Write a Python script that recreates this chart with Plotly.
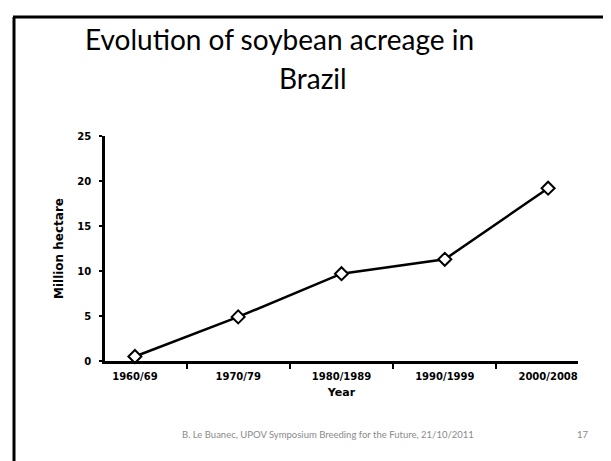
import plotly.graph_objects as go

# data
periodos = ["1960/69", "1970/79", "1980/1989", "1990/1999", "2000/2008"]
area_milhoes_ha = [0.5, 4.9, 9.7, 11.3, 19.2]
y_ticks = [0, 5, 10, 15, 20, 25]

W, H = 611, 461
ML, MR, MT, MB = 97, 41, 128, 108

def px_x(px):
    return (px - ML) / (W - ML - MR)

def px_y(py):
    return (H - MB - py) / (H - MT - MB)

fig = go.Figure()

fig.add_trace(go.Scatter(
    x=periodos, y=area_milhoes_ha, mode='lines+markers',
    line=dict(color='black', width=2.5),
    marker=dict(symbol='diamond', size=10, color='white',
                line=dict(color='black', width=2)),
    showlegend=False, cliponaxis=False))

tick_font = dict(family='DejaVu Sans', size=10, color='black', weight='bold')

fig.update_layout(
    width=W, height=H,
    margin=dict(l=ML, r=MR, t=MT, b=MB),
    paper_bgcolor='white', plot_bgcolor='white',
    font=dict(family='DejaVu Sans', color='black'),
    xaxis=dict(showline=True, linecolor='black', linewidth=2.5,
               ticks='outside', ticklen=5, tickwidth=2, tickcolor='black',
               tickson='boundaries', showgrid=False, zeroline=False,
               tickfont=tick_font, ticklabelstandoff=4,
               title=dict(text='Year', standoff=8,
                          font=dict(family='DejaVu Sans', size=11, weight='bold'))),
    yaxis=dict(range=[0, 25], tickvals=y_ticks, showline=True,
               linecolor='black', linewidth=2.5,
               ticks='outside', ticklen=3, tickwidth=2, tickcolor='black',
               showgrid=False, zeroline=False,
               tickfont=tick_font, ticklabelstandoff=6,
               title=dict(text='Million hectare', standoff=12,
                          font=dict(family='DejaVu Sans', size=12, weight='bold'))),
)

# slide border (left and top edges visible)
fig.add_shape(type='line', xref='paper', yref='paper',
              x0=px_x(6), y0=px_y(470), x1=px_x(6), y1=px_y(9),
              line=dict(color='black', width=3))
fig.add_shape(type='line', xref='paper', yref='paper',
              x0=px_x(5), y0=px_y(9), x1=px_x(620), y1=px_y(9),
              line=dict(color='black', width=3))

titulo_font = dict(family='Lato', size=28, color='black')
fig.add_annotation(text='Evolution of soybean acreage in', xref='paper', yref='paper',
                   x=px_x(271), y=px_y(31), showarrow=False, font=titulo_font,
                   xanchor='center', yanchor='middle')
fig.add_annotation(text='Brazil', xref='paper', yref='paper',
                   x=px_x(305), y=px_y(70), showarrow=False, font=titulo_font,
                   xanchor='center', yanchor='middle')

rodape_font = dict(family='Lato', size=9.5, color='#8a8a8a')
fig.add_annotation(text='B. Le Buanec, UPOV Symposium Breeding for the Future, 21/10/2011',
                   xref='paper', yref='paper', x=px_x(320), y=px_y(426),
                   showarrow=False, font=rodape_font, xanchor='center', yanchor='middle')
fig.add_annotation(text='17', xref='paper', yref='paper', x=px_x(575), y=px_y(426),
                   showarrow=False, font=rodape_font, xanchor='center', yanchor='middle')

fig.write_html("out.html")
